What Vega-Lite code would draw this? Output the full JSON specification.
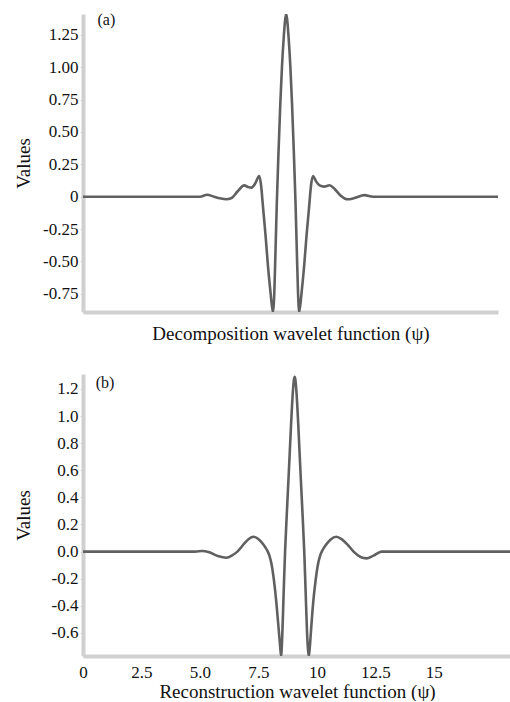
{
  "$schema": "https://vega.github.io/schema/vega-lite/v6.json",
  "background": "white",
  "padding": {"left": 14, "top": 12, "right": 0, "bottom": 0},
  "spacing": 31,
  "config": {
    "view": {"stroke": null},
    "font": "Liberation Serif",
    "axis": {
      "grid": false,
      "domainColor": "#d0d0d0",
      "domainWidth": 4,
      "tickColor": "#d8d8d8",
      "tickSize": 3,
      "tickCount": 30,
      "labelOverlap": false,
      "labelFlush": false,
      "labelFont": "Liberation Serif",
      "labelFontSize": 17,
      "labelColor": "#111111",
      "titleFont": "Liberation Serif",
      "titleFontSize": 19,
      "titleFontWeight": "normal",
      "titleColor": "#111111"
    }
  },
  "datasets": {
    "a": [
      {"x": 0, "y": 0}, {"x": 2.5, "y": 0}, {"x": 5.0, "y": 0}, {"x": 5.3, "y": 0.015}, {"x": 5.6, "y": 0.0},
      {"x": 5.85, "y": -0.012}, {"x": 6.11, "y": -0.02}, {"x": 6.35, "y": -0.01}, {"x": 6.6, "y": 0.04},
      {"x": 6.89, "y": 0.087}, {"x": 7.05, "y": 0.075}, {"x": 7.2, "y": 0.07}, {"x": 7.35, "y": 0.1},
      {"x": 7.53, "y": 0.16}, {"x": 7.6, "y": 0.1}, {"x": 7.7, "y": -0.1}, {"x": 7.8, "y": -0.3},
      {"x": 7.9, "y": -0.53}, {"x": 8.0, "y": -0.72}, {"x": 8.07, "y": -0.84}, {"x": 8.12, "y": -0.89},
      {"x": 8.16, "y": -0.8}, {"x": 8.22, "y": -0.45}, {"x": 8.28, "y": -0.05}, {"x": 8.35, "y": 0.33},
      {"x": 8.43, "y": 0.72}, {"x": 8.5, "y": 1.0}, {"x": 8.58, "y": 1.24}, {"x": 8.64, "y": 1.37},
      {"x": 8.68, "y": 1.41}, {"x": 8.72, "y": 1.37}, {"x": 8.78, "y": 1.24}, {"x": 8.86, "y": 1.0},
      {"x": 8.93, "y": 0.72}, {"x": 9.01, "y": 0.33}, {"x": 9.08, "y": -0.05}, {"x": 9.14, "y": -0.45},
      {"x": 9.2, "y": -0.8}, {"x": 9.23, "y": -0.89}, {"x": 9.28, "y": -0.84}, {"x": 9.35, "y": -0.72},
      {"x": 9.45, "y": -0.53}, {"x": 9.55, "y": -0.3}, {"x": 9.65, "y": -0.1}, {"x": 9.75, "y": 0.1},
      {"x": 9.83, "y": 0.16}, {"x": 9.95, "y": 0.12}, {"x": 10.11, "y": 0.087}, {"x": 10.3, "y": 0.078},
      {"x": 10.53, "y": 0.088}, {"x": 10.75, "y": 0.06}, {"x": 11.0, "y": 0.01}, {"x": 11.31, "y": -0.02},
      {"x": 11.6, "y": -0.01}, {"x": 12.02, "y": 0.012}, {"x": 12.4, "y": 0.0}, {"x": 15, "y": 0}, {"x": 17.73, "y": 0}
    ],
    "b": [
      {"x": 0, "y": 0}, {"x": 2.5, "y": 0}, {"x": 4.8, "y": 0}, {"x": 5.1, "y": 0.005}, {"x": 5.4, "y": -0.005},
      {"x": 5.8, "y": -0.035}, {"x": 6.12, "y": -0.045}, {"x": 6.4, "y": -0.025}, {"x": 6.6, "y": 0.0},
      {"x": 6.9, "y": 0.06}, {"x": 7.1, "y": 0.095}, {"x": 7.28, "y": 0.11}, {"x": 7.52, "y": 0.09},
      {"x": 7.72, "y": 0.05}, {"x": 7.87, "y": 0.01}, {"x": 7.97, "y": -0.03}, {"x": 8.07, "y": -0.1},
      {"x": 8.17, "y": -0.22}, {"x": 8.27, "y": -0.38}, {"x": 8.37, "y": -0.58}, {"x": 8.43, "y": -0.7},
      {"x": 8.47, "y": -0.77}, {"x": 8.52, "y": -0.62}, {"x": 8.58, "y": -0.3}, {"x": 8.64, "y": 0.0},
      {"x": 8.72, "y": 0.3}, {"x": 8.81, "y": 0.62}, {"x": 8.9, "y": 0.95}, {"x": 8.97, "y": 1.17},
      {"x": 9.02, "y": 1.27}, {"x": 9.05, "y": 1.29}, {"x": 9.08, "y": 1.27}, {"x": 9.13, "y": 1.17},
      {"x": 9.2, "y": 0.95}, {"x": 9.29, "y": 0.62}, {"x": 9.38, "y": 0.3}, {"x": 9.46, "y": 0.0},
      {"x": 9.52, "y": -0.3}, {"x": 9.58, "y": -0.6}, {"x": 9.63, "y": -0.74}, {"x": 9.66, "y": -0.77},
      {"x": 9.7, "y": -0.7}, {"x": 9.75, "y": -0.58}, {"x": 9.84, "y": -0.38}, {"x": 9.94, "y": -0.22},
      {"x": 10.04, "y": -0.1}, {"x": 10.14, "y": -0.03}, {"x": 10.24, "y": 0.01}, {"x": 10.39, "y": 0.05},
      {"x": 10.59, "y": 0.09}, {"x": 10.83, "y": 0.11}, {"x": 11.07, "y": 0.09}, {"x": 11.32, "y": 0.05},
      {"x": 11.57, "y": 0.0}, {"x": 11.87, "y": -0.04}, {"x": 12.12, "y": -0.05}, {"x": 12.42, "y": -0.03},
      {"x": 12.77, "y": 0.0}, {"x": 15, "y": 0}, {"x": 18.3, "y": 0}
    ]
  },
  "vconcat": [
    {
      "width": 415,
      "height": 298,
      "layer": [
        {
          "data": {"name": "a"},
          "mark": {"type": "line", "color": "#606060", "strokeWidth": 2.6, "interpolate": "monotone", "clip": true},
          "encoding": {
            "x": {
              "field": "x", "type": "quantitative",
              "scale": {"domain": [0, 17.73], "nice": false, "zero": false},
              "axis": {"title": "Decomposition wavelet function (ψ)", "labels": false, "ticks": false, "titlePadding": 12}
            },
            "y": {
              "field": "y", "type": "quantitative",
              "scale": {"domain": [-0.89, 1.41], "nice": false, "zero": false},
              "axis": {
                "title": "Values",
                "values": [-0.75, -0.5, -0.25, 0, 0.25, 0.5, 0.75, 1, 1.25],
                "tickCount": 30,
                "labelExpr": "datum.value === 0 ? '0' : replace(format(datum.value, '.2f'), '\u2212', '-')",
                "labelOverlap": false,
                "labelPadding": 2,
                "minExtent": 45, "maxExtent": 45,
                "titlePadding": 5
              }
            }
          }
        },
        {
          "data": {"values": [{"x": 1.0, "y": 1.36, "label": "(a)"}]},
          "mark": {"type": "text", "font": "Liberation Serif", "fontSize": 16, "color": "#111111", "align": "center", "baseline": "middle"},
          "encoding": {
            "x": {"field": "x", "type": "quantitative"},
            "y": {"field": "y", "type": "quantitative"},
            "text": {"field": "label"}
          }
        }
      ]
    },
    {
      "width": 428,
      "height": 282,
      "layer": [
        {
          "data": {"name": "b"},
          "mark": {"type": "line", "color": "#606060", "strokeWidth": 2.6, "interpolate": "monotone", "clip": true},
          "encoding": {
            "x": {
              "field": "x", "type": "quantitative",
              "scale": {"domain": [0, 18.3], "nice": false, "zero": false},
              "axis": {
                "title": "Reconstruction wavelet function (ψ)",
                "values": [0, 2.5, 5, 7.5, 10, 12.5, 15],
                "tickCount": 30,
                "labelExpr": "datum.value === 5 ? '5.0' : '' + datum.value",
                "labelOverlap": false,
                "ticks": false,
                "labelPadding": 8,
                "titlePadding": 2
              }
            },
            "y": {
              "field": "y", "type": "quantitative",
              "scale": {"domain": [-0.77, 1.31], "nice": false, "zero": false},
              "axis": {
                "title": "Values",
                "values": [-0.6, -0.4, -0.2, 0, 0.2, 0.4, 0.6, 0.8, 1.0, 1.2],
                "tickCount": 30,
                "labelExpr": "replace(format(datum.value, '.1f'), '\u2212', '-')",
                "labelOverlap": false,
                "labelPadding": 2,
                "minExtent": 45, "maxExtent": 45,
                "titlePadding": 5
              }
            }
          }
        },
        {
          "data": {"values": [{"x": 0.94, "y": 1.24, "label": "(b)"}]},
          "mark": {"type": "text", "font": "Liberation Serif", "fontSize": 16, "color": "#111111", "align": "center", "baseline": "middle"},
          "encoding": {
            "x": {"field": "x", "type": "quantitative"},
            "y": {"field": "y", "type": "quantitative"},
            "text": {"field": "label"}
          }
        }
      ]
    }
  ]
}
